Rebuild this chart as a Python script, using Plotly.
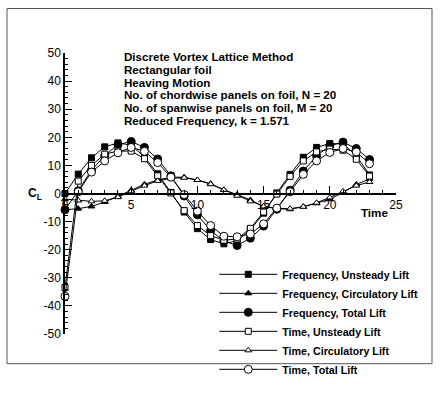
import plotly.graph_objects as go

# ---------------- data ----------------
time = [0, 1, 2, 3, 4, 5, 6, 7, 8, 9, 10, 11, 12, 13, 14, 15, 16, 17, 18, 19, 20, 21, 22, 23]

freq_unsteady = [0.0, 6.9, 12.7, 16.6, 18.0, 17.2, 13.0, 7.0, 0.4, -6.6, -12.5, -16.4, -17.9, -16.8, -13.0, -7.0, 0.2, 6.8, 12.9, 16.4, 17.8, 17.6, 13.5, 6.6]
freq_circ = [-5.8, -5.4, -4.6, -3.0, -1.0, 1.2, 3.3, 4.8, 5.8, 5.8, 4.8, 3.5, 1.3, -0.4, -2.3, -4.6, -5.4, -5.6, -4.7, -3.5, -2.0, 0.3, 3.2, 5.2]
freq_total = [-5.8, 1.0, 8.3, 13.5, 17.4, 18.5, 16.4, 12.3, 6.3, -0.9, -7.6, -13.2, -16.9, -18.5, -15.9, -11.6, -5.6, 1.2, 8.0, 13.4, 17.0, 18.3, 16.0, 12.1]

time_unsteady = [-33.5, 4.4, 10.0, 14.0, 15.1, 15.1, 12.4, 6.3, 0.2, -6.1, -11.4, -15.0, -16.6, -16.2, -12.4, -6.6, -0.2, 6.1, 11.6, 14.8, 15.8, 15.4, 12.2, 6.2]
time_circ = [-2.0, -2.5, -2.8, -2.6, -1.3, 0.8, 2.8, 4.5, 5.4, 5.6, 4.8, 3.3, 1.3, -0.8, -2.8, -4.6, -5.3, -5.4, -4.7, -3.3, -1.4, 0.8, 2.8, 4.1]
time_total = [-36.6, 0.6, 7.6, 11.6, 14.5, 16.4, 15.0, 11.0, 5.8, -0.4, -6.3, -11.4, -15.2, -15.4, -14.4, -10.8, -5.2, 0.6, 6.8, 11.6, 14.6, 16.0, 14.8, 10.6]

series_names = [
    "Frequency, Unsteady Lift",
    "Frequency, Circulatory Lift",
    "Frequency, Total Lift",
    "Time, Unsteady Lift",
    "Time, Circulatory Lift",
    "Time, Total Lift",
]

info_lines = [
    "Discrete Vortex Lattice Method",
    "Rectangular foil",
    "Heaving Motion",
    "No. of chordwise panels on foil, N = 20",
    "No. of spanwise panels on foil, M = 20",
    "Reduced Frequency, k = 1.571",
]
info_y = [48.6, 44.05, 39.5, 34.95, 30.4, 25.85]

x_ticks = [0, 5, 10, 15, 20, 25]
y_ticks = [-50, -40, -30, -20, -10, 0, 10, 20, 30, 40, 50]

# ---------------- styles ----------------
FONT = "Liberation Sans, Arial, sans-serif"
styles = [
    dict(symbol="square", size=6, color="black", line=dict(color="black", width=1)),
    dict(symbol="triangle-up", size=6, color="black", line=dict(color="black", width=1)),
    dict(symbol="circle", size=8, color="black", line=dict(color="black", width=1)),
    dict(symbol="square", size=6, color="white", line=dict(color="black", width=1)),
    dict(symbol="triangle-up", size=6, color="white", line=dict(color="black", width=1)),
    dict(symbol="circle", size=8, color="white", line=dict(color="black", width=1)),
]
series = [freq_unsteady, freq_circ, freq_total, time_unsteady, time_circ, time_total]

fig = go.Figure()
for name, ys, st in zip(series_names, series, styles):
    fig.add_trace(go.Scatter(
        x=time, y=ys, name=name, mode="lines+markers",
        line=dict(color="black", width=1),
        marker=st, cliponaxis=False,
    ))

for txt, yv in zip(info_lines, info_y):
    fig.add_annotation(x=4.35, y=yv, xref="x", yref="y", text="<b>%s</b>" % txt,
                       showarrow=False, xanchor="left", yanchor="middle",
                       height=13.6, borderpad=0, valign="middle",
                       font=dict(family=FONT, size=11.6, color="black"))

fig.add_annotation(x=-0.09, y=0, xref="paper", yref="y", text="<b>C<sub>L</sub></b>",
                   showarrow=False, xanchor="center", yanchor="middle",
                   font=dict(family=FONT, size=12, color="black"))
fig.add_annotation(x=23.4, y=-6.9, xref="x", yref="y", text="<b>Time</b>",
                   showarrow=False, xanchor="center", yanchor="middle",
                   font=dict(family=FONT, size=11.6, color="black"))

# outer frame
fig.add_shape(type="rect", xref="paper", yref="paper",
              x0=-0.1752, x1=1.1088, y0=-0.1056, y1=1.1584,
              line=dict(color="#555555", width=1))

fig.update_layout(
    width=440, height=396,
    margin=dict(l=65, r=44, t=53, b=40),
    paper_bgcolor="white", plot_bgcolor="white",
    font=dict(family=FONT, size=12, color="black"),
    showlegend=True,
    legend=dict(x=0.451, y=0.264, xanchor="left", yanchor="top",
                bgcolor="rgba(0,0,0,0)", itemwidth=58,
                font=dict(family=FONT, size=10.7, color="black", weight="bold")),
    xaxis=dict(range=[0, 25], tickvals=x_ticks, ticktext=[str(v) for v in x_ticks],
               anchor="free", position=0.5, showgrid=False, zeroline=False,
               showline=True, linecolor="black", linewidth=1.5,
               ticks="inside", ticklen=7, tickwidth=1.2, tickcolor="black",
               minor=dict(dtick=1, ticks="inside", ticklen=3, tickcolor="black", tickwidth=1),
               tickfont=dict(family=FONT, size=12, color="black")),
    yaxis=dict(range=[-50, 50], tickvals=y_ticks, ticktext=[str(v) for v in y_ticks],
               showgrid=False, zeroline=False,
               showline=True, linecolor="black", linewidth=1.5,
               ticks="inside", ticklen=7, tickwidth=1.2, tickcolor="black",
               minor=dict(dtick=2, ticks="inside", ticklen=3, tickcolor="black", tickwidth=1),
               tickfont=dict(family=FONT, size=12, color="black")),
)

fig.write_html("out.html")
